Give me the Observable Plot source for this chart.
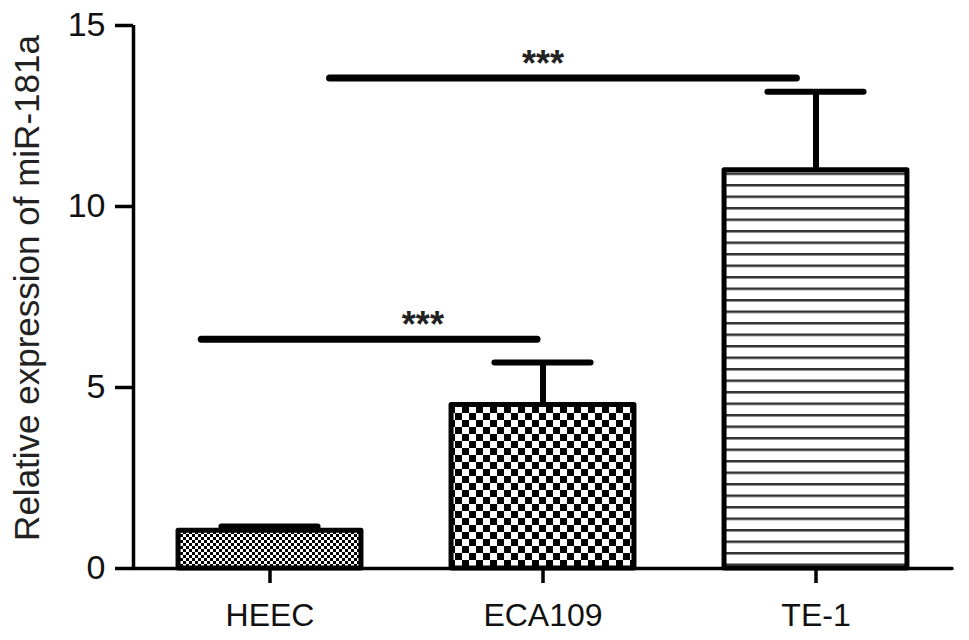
<!DOCTYPE html>
<html><head><meta charset="utf-8">
<script src="https://cdn.jsdelivr.net/npm/d3@7"></script>
<script src="https://cdn.jsdelivr.net/npm/@observablehq/plot@0.6"></script>
<style>body{margin:0;background:#fff}</style>
</head><body><div id="chart"></div>
<script>
// ---- data ----
const categories = ["HEEC", "ECA109", "TE-1"];
const means = [1.04, 4.52, 11.0];
const upper = [1.16, 5.69, 13.17];          // mean + SD
const yTicks = [0, 5, 10, 15];
const yTitle = "Relative expression of miR-181a";
// significance brackets (x in category-index units, y in data units)
const sigStart = [-0.25, 0.22];
const sigEnd = [0.98, 1.93];
const sigY = [6.33, 13.55];
const starX = [0.56, 1.0];
const sigLabel = ["***", "***"];

// ---- styles ----
const fills = ["url(#pHEEC)", "url(#pECA)", "url(#pTE)"];
const halfBar = 0.335, halfCap = 0.176;

const rows = categories.map((c, i) => ({cat: c, i, mean: means[i], upper: upper[i], fill: fills[i]}));
const sig = sigY.map((y, k) => ({x1: sigStart[k], x2: sigEnd[k], y, sx: starX[k], label: sigLabel[k]}));

const chart = Plot.plot({
  width: 969, height: 640,
  marginLeft: 133, marginRight: 17, marginTop: 25, marginBottom: 72,
  style: {fontFamily: "'Liberation Sans', Arial, Helvetica, sans-serif", background: "white", color: "#111"},
  x: {domain: [-0.5, 2.5]},
  y: {domain: [0, 15]},
  color: {type: "identity"},
  marks: [
    Plot.ruleX([-0.5], {stroke: "#000", strokeWidth: 3.5}),
    Plot.ruleY([0], {stroke: "#000", strokeWidth: 3.5, strokeLinecap: "round"}),
    Plot.axisY({ticks: yTicks, tickSize: 18, tickPadding: 10, strokeWidth: 3.5, fontSize: 34, label: null, stroke: "#000"}),
    Plot.axisX({ticks: categories.map((_, i) => i), tickFormat: i => categories[i], tickSize: 15, tickPadding: 20, strokeWidth: 3.5, fontSize: 32, label: null, stroke: "#000"}),
    Plot.rect(rows, {x1: d => d.i - halfBar, x2: d => d.i + halfBar, y1: 0, y2: "mean", fill: "fill", stroke: "#000", strokeWidth: 5, strokeLinejoin: "round"}),
    Plot.ruleX(rows, {x: "i", y1: "mean", y2: "upper", stroke: "#000", strokeWidth: 6}),
    Plot.ruleY(rows, {y: "upper", x1: d => d.i - halfCap, x2: d => d.i + halfCap, stroke: "#000", strokeWidth: 6, strokeLinecap: "round"}),
    Plot.ruleY(sig, {y: "y", x1: "x1", x2: "x2", stroke: "#000", strokeWidth: 7, strokeLinecap: "round"}),
    Plot.text(sig, {x: "sx", y: "y", text: "label", fontSize: 36, fontWeight: "bold", dy: -14, fill: "#222"}),
    Plot.text([yTitle], {frameAnchor: "left", textAnchor: "middle", rotate: -90, dx: -106, dy: -9, fontSize: 35, fill: "#222"})
  ]
});

// pattern definitions
const svg = d3.select(chart);
const defs = svg.insert("defs", ":first-child");
{
  const p = defs.append("pattern").attr("id", "pHEEC").attr("patternUnits", "userSpaceOnUse").attr("width", 6).attr("height", 6);
  p.append("rect").attr("width", 6).attr("height", 6).attr("fill", "#fff");
  p.append("rect").attr("width", 3).attr("height", 3).attr("fill", "#000");
  p.append("rect").attr("x", 3).attr("y", 3).attr("width", 3).attr("height", 3).attr("fill", "#000");
}
{
  const p = defs.append("pattern").attr("id", "pECA").attr("patternUnits", "userSpaceOnUse").attr("width", 14).attr("height", 14);
  p.append("rect").attr("width", 14).attr("height", 14).attr("fill", "#fff");
  p.append("rect").attr("width", 7).attr("height", 7).attr("fill", "#000");
  p.append("rect").attr("x", 7).attr("y", 7).attr("width", 7).attr("height", 7).attr("fill", "#000");
}
{
  const p = defs.append("pattern").attr("id", "pTE").attr("patternUnits", "userSpaceOnUse").attr("width", 10).attr("height", 11.5);
  p.append("rect").attr("width", 10).attr("height", 11.5).attr("fill", "#fff");
  p.append("rect").attr("y", 0).attr("width", 10).attr("height", 2.5).attr("fill", "#333");
}
document.getElementById("chart").append(chart);
</script>
</body></html>
